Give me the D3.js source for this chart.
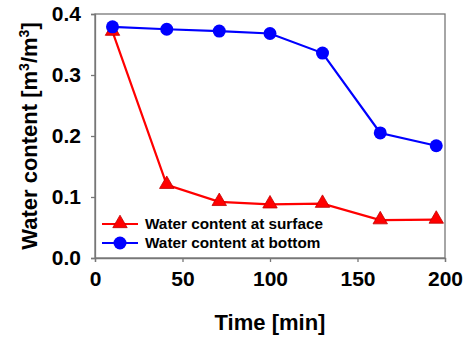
<!DOCTYPE html>
<html><head><meta charset="utf-8">
<script src="https://cdn.jsdelivr.net/npm/d3@7"></script>
<style>body{margin:0;background:#fff}svg{display:block}text{font-family:Arial,"Liberation Sans",sans-serif;font-weight:bold}</style>
</head><body><svg id="c" width="469" height="341"></svg>
<script>
const time = [10, 41, 71, 100, 130, 163, 195];
const surface = [0.371, 0.120, 0.092, 0.088, 0.089, 0.062, 0.063];
const bottom = [0.379, 0.375, 0.372, 0.368, 0.336, 0.205, 0.184];
const xTicks = [0, 50, 100, 150, 200];
const yTicks = [0.0, 0.1, 0.2, 0.3, 0.4];
const seriesNames = ["Water content at surface", "Water content at bottom"];

const svg = d3.select("#c");
const m = {l:95, r:445, t:14, b:258};
const x = d3.scaleLinear().domain([0,200]).range([m.l, m.r]);
const y = d3.scaleLinear().domain([0,0.4]).range([m.b, m.t]);
const axisCol = "#777";

// frame
svg.append("rect").attr("x", m.l).attr("y", m.t).attr("width", m.r-m.l).attr("height", m.b-m.t)
  .attr("fill","none").attr("stroke", axisCol).attr("stroke-width",1.3);

const xa = svg.append("g").attr("transform",`translate(0,${m.b})`)
  .call(d3.axisBottom(x).tickValues(xTicks).tickSize(4).tickPadding(9).tickFormat(d3.format("d")));
const ya = svg.append("g").attr("transform",`translate(${m.l},0)`)
  .call(d3.axisLeft(y).tickValues(yTicks).tickSize(4).tickPadding(10).tickFormat(d3.format(".1f")));
[xa, ya].forEach(a => {
  a.select(".domain").attr("stroke", axisCol).attr("stroke-width",1.3);
  a.selectAll(".tick line").attr("stroke", axisCol).attr("stroke-width",1.3);
  a.selectAll("text").attr("fill","#000").style("font-size","21px").style("font-family","Arial, 'Liberation Sans', sans-serif").style("font-weight","bold");
});

// axis titles
svg.append("text").attr("x", (m.l+m.r)/2).attr("y", 330).attr("text-anchor","middle")
  .style("font-size","22px").text("Time [min]");
const yt = svg.append("text").attr("transform",`translate(37,${(m.t+m.b)/2}) rotate(-90)`)
  .attr("text-anchor","middle").style("font-size","22px");
yt.append("tspan").text("Water content [m");
yt.append("tspan").attr("dy",-8).style("font-size","14px").text("3");
yt.append("tspan").attr("dy",8).text("/m");
yt.append("tspan").attr("dy",-8).style("font-size","14px").text("3");
yt.append("tspan").attr("dy",8).text("]");

const line = d3.line().x(d=>x(d[0])).y(d=>y(d[1]));
const tri = d3.symbol().type(d3.symbolTriangle).size(90);

function drawSeries(vals, color, marker) {
  const pts = time.map((t,i)=>[t, vals[i]]);
  svg.append("path").datum(pts).attr("d", line).attr("fill","none").attr("stroke", color).attr("stroke-width",2.2);
  const g = svg.append("g");
  pts.forEach(p => {
    if (marker === "tri") {
      g.append("path").attr("d", tri()).attr("transform",`translate(${x(p[0])},${y(p[1])-0.5})`)
        .attr("fill", color).attr("stroke","#c00000").attr("stroke-width",0.8);
    } else {
      g.append("circle").attr("cx", x(p[0])).attr("cy", y(p[1])).attr("r",6.5).attr("fill", color);
    }
  });
}
drawSeries(surface, "#ff0000", "tri");
drawSeries(bottom, "#0000ff", "circle");

// legend
const leg = [{c:"#ff0000", m:"tri", y:224}, {c:"#0000ff", m:"circle", y:243}];
leg.forEach((d,i) => {
  svg.append("line").attr("x1",102).attr("x2",138).attr("y1",d.y).attr("y2",d.y).attr("stroke",d.c).attr("stroke-width",2.2);
  if (d.m==="tri") svg.append("path").attr("d", tri()).attr("transform",`translate(120,${d.y-0.5})`).attr("fill",d.c).attr("stroke","#c00000").attr("stroke-width",0.8);
  else svg.append("circle").attr("cx",120).attr("cy",d.y).attr("r",6.5).attr("fill",d.c);
  svg.append("text").attr("x",145).attr("y",d.y+5).style("font-size","15.3px").text(seriesNames[i]);
});
</script></body></html>
